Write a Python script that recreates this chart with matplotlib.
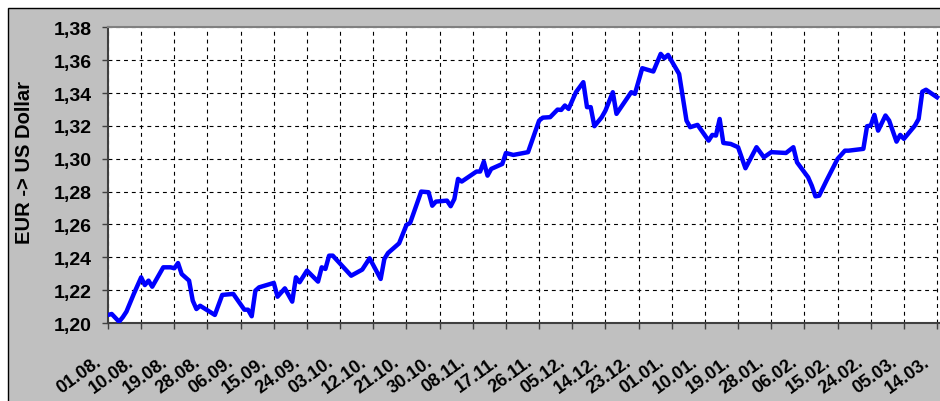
import numpy as np
import matplotlib
matplotlib.use("Agg")
import matplotlib.pyplot as plt
import matplotlib.transforms as mtransforms
from matplotlib.patches import Rectangle
from matplotlib.ticker import MultipleLocator, FuncFormatter

plt.rcParams['font.family'] = ['Liberation Sans', 'DejaVu Sans']
plt.rcParams['font.weight'] = 'bold'

# days counted from 01.08.
days = [0, 1, 3, 4, 5, 7, 9, 10, 11, 12, 15, 17, 18, 19, 20, 22, 23, 24, 25, 29,
        31, 34, 37, 38, 39, 40, 41, 45, 46, 48, 50, 51, 52, 54, 57, 58, 59, 60, 61, 65,
        66, 69, 71, 74, 75, 76, 79, 81, 82, 85, 87, 88, 89, 92, 93, 94, 95, 96, 100, 101,
        102, 103, 104, 107, 108, 110, 114, 117, 118, 120, 122, 123, 124, 125, 127, 129, 130, 131, 132, 134,
        135, 137, 138, 142, 143, 145, 148, 150, 151, 152, 155, 157, 158, 160, 163, 164, 165, 166, 167, 169,
        171, 173, 176, 178, 180, 184, 186, 187, 190, 191, 192, 193, 195, 198, 200, 201, 205, 206, 207, 208,
        209, 211, 212, 214, 215, 216, 219, 220, 221, 222, 225]
rate = [1.2049, 1.2055, 1.2008, 1.2035, 1.2069, 1.2177, 1.2278, 1.2231, 1.2258, 1.2221,
        1.2339, 1.2339, 1.2333, 1.2365, 1.2298, 1.2258, 1.2136, 1.2085, 1.2105, 1.2049,
        1.2171, 1.2177, 1.2081, 1.2081, 1.2041, 1.2197, 1.2217, 1.2244, 1.2160, 1.2211,
        1.2130, 1.2278, 1.2248, 1.2319, 1.2252, 1.2339, 1.2329, 1.2410, 1.2410, 1.2312,
        1.2288, 1.2325, 1.2394, 1.2268, 1.2390, 1.2426, 1.2485, 1.2597, 1.2609, 1.2800,
        1.2796, 1.2714, 1.2739, 1.2745, 1.2711, 1.2755, 1.2877, 1.2861, 1.2922, 1.2922,
        1.2982, 1.2897, 1.2938, 1.2968, 1.3035, 1.3023, 1.3040, 1.3232, 1.3250, 1.3253,
        1.3299, 1.3297, 1.3324, 1.3303, 1.3405, 1.3466, 1.3314, 1.3314, 1.3198, 1.3253,
        1.3293, 1.3405, 1.3273, 1.3405, 1.3395, 1.3551, 1.3531, 1.3638, 1.3612, 1.3632,
        1.3516, 1.3232, 1.3192, 1.3206, 1.3110, 1.3145, 1.3141, 1.3242, 1.3096, 1.3090,
        1.3070, 1.2942, 1.3070, 1.3009, 1.3040, 1.3035, 1.3070, 1.2978, 1.2887, 1.2836,
        1.2771, 1.2775, 1.2867, 1.2999, 1.3049, 1.3049, 1.3060, 1.3198, 1.3202, 1.3267,
        1.3171, 1.3263, 1.3232, 1.3104, 1.3145, 1.3121, 1.3202, 1.3242, 1.3408, 1.3420,
        1.3374]

tick_labels = ["01.08.", "10.08.", "19.08.", "28.08.", "06.09.", "15.09.", "24.09.",
               "03.10.", "12.10.", "21.10.", "30.10.", "08.11.", "17.11.", "26.11.",
               "05.12.", "14.12.", "23.12.", "01.01.", "10.01.", "19.01.", "28.01.",
               "06.02.", "15.02.", "24.02.", "05.03.", "14.03."]
tick_days = np.arange(len(tick_labels)) * 9

fig = plt.figure(figsize=(9.4, 4.02), dpi=100, facecolor='white')
fig.patches.append(Rectangle((8 / 940, -0.1), 1.2, 1.1 - 9 / 402, transform=fig.transFigure,
                             facecolor='#C0C0C0', edgecolor='black', linewidth=1, zorder=-10))

ax = fig.add_axes([108 / 940, 1 - 324 / 402, 1 - 108 / 940, (324 - 28.3) / 402])
ax.set_facecolor('white')
ax.plot(days, rate, color='#0000FF', linewidth=3.2, solid_joinstyle='round', zorder=3)

ax.set_xlim(0, 225.8)
ax.set_ylim(1.20, 1.38)
ax.yaxis.set_major_locator(MultipleLocator(0.02))
ax.yaxis.set_major_formatter(FuncFormatter(lambda v, p: f"{v:.2f}".replace('.', ',')))
ax.set_xticks(tick_days)
ax.set_xticklabels(tick_labels, rotation=36, ha='right', va='top', rotation_mode='anchor')

ax.grid(True, color='black', linestyle=(0, (3.5, 3.5)), linewidth=0.8)
ax.set_axisbelow(True)

ax.spines['right'].set_visible(False)
ax.spines['top'].set_color('#808080')
ax.spines['top'].set_linewidth(1.5)
ax.spines['left'].set_color('#404040')
ax.spines['left'].set_linewidth(1.5)
ax.spines['bottom'].set_color('#404040')
ax.spines['bottom'].set_linewidth(1.5)

ax.tick_params(axis='y', direction='out', length=4, width=1, pad=7.5, labelsize=14, color='#404040')
ax.tick_params(axis='x', direction='out', length=4, width=1, pad=0, labelsize=13, color='#404040')
for lab in ax.get_yticklabels():
    lab.set_fontweight('bold')
shift = mtransforms.ScaledTranslation(-13.8 / 100, -24.4 / 100, fig.dpi_scale_trans)
for lab in ax.get_xticklabels():
    lab.set_fontweight('bold')
    lab.set_transform(lab.get_transform() + shift)

fig.text(24.5 / 940, 1 - 162 / 402, "EUR -> US Dollar", rotation=90, ha='center', va='center',
         fontsize=14.5, fontweight='bold')

fig.savefig("out.png", dpi=100)
